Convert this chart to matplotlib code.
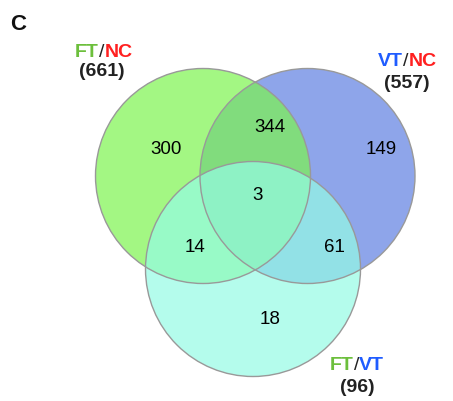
import matplotlib
matplotlib.use("Agg")
import matplotlib.pyplot as plt
from matplotlib.patches import Circle

plt.rcParams['font.family'] = ['Liberation Sans', 'DejaVu Sans']

# region counts of the three comparisons
set_names = [("FT", "NC"), ("VT", "NC"), ("FT", "VT")]
set_totals = [661, 557, 96]
only_counts = [300, 149, 18]      # FT/NC only, VT/NC only, FT/VT only
pair_counts = [344, 14, 61]       # FT/NC & VT/NC, FT/NC & FT/VT, VT/NC & FT/VT
triple_count = 3

name_colors = {"FT": "#6cbf3c", "VT": "#1f5cff", "NC": "#ff2020"}

fig = plt.figure(figsize=(4.53, 4.01), dpi=100)
ax = fig.add_axes([0, 0, 1, 1])
ax.set_xlim(0, 453)
ax.set_ylim(401, 0)
ax.set_aspect('equal')
ax.axis('off')

# circles: centre x, centre y, radius (pixel layout)
centres = [(203, 176), (307.5, 176), (253, 269)]
radius = 107.5
fills = ["#7cf44f", "#8ea5ea", "#94fce5"]
alphas = [0.7, 1.0, 0.7]
order = [1, 0, 2]
for i in order:
    ax.add_patch(Circle(centres[i], radius, facecolor=fills[i], alpha=alphas[i],
                        edgecolor='none', zorder=1 + order.index(i)))
for i in order:
    ax.add_patch(Circle(centres[i], radius, facecolor='none',
                        edgecolor='#999999', linewidth=1.0, zorder=5))

# counts inside regions
fs = 13.5
ax.text(166, 150, str(only_counts[0]), fontsize=fs, ha='center', va='center', zorder=6)
ax.text(381, 149, str(only_counts[1]), fontsize=fs, ha='center', va='center', zorder=6)
ax.text(270, 320, str(only_counts[2]), fontsize=fs, ha='center', va='center', zorder=6)
ax.text(270, 128, str(pair_counts[0]), fontsize=fs, ha='center', va='center', zorder=6)
ax.text(195, 248, str(pair_counts[1]), fontsize=fs, ha='center', va='center', zorder=6)
ax.text(334, 247, str(pair_counts[2]), fontsize=fs, ha='center', va='center', zorder=6)
ax.text(258, 196, str(triple_count), fontsize=fs, ha='center', va='center', zorder=6)


def set_label(x, y, names, total, tx, ty):
    a, b = names
    t = ax.text(x, y, a, fontsize=14, fontweight='bold', color=name_colors[a],
                ha='left', va='baseline')
    t = ax.annotate("/", xy=(1, 0), xycoords=t, fontsize=14, color='#222222',
                    ha='left', va='bottom')
    ax.annotate(b, xy=(1, 0), xycoords=t, fontsize=14, fontweight='bold',
                color=name_colors[b], ha='left', va='bottom')
    ax.text(tx, ty, "(%d)" % total, fontsize=14, fontweight='bold', color='#222222',
            ha='center', va='center')


set_label(75, 57, set_names[0], set_totals[0], 101.5, 72)
set_label(378, 66.5, set_names[1], set_totals[1], 407, 83)
set_label(330, 370.5, set_names[2], set_totals[2], 357, 387)

ax.text(10, 24.5, "C", fontsize=16, fontweight='bold', ha='left', va='center',
        color='#111111')

fig.savefig("out.png", dpi=100)
